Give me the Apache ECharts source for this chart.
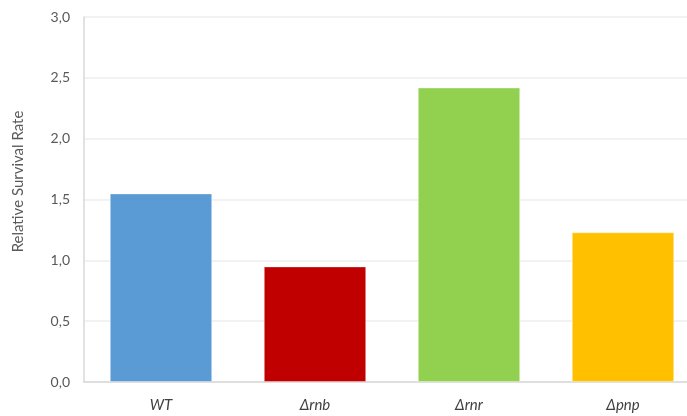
<!DOCTYPE html>
<html>
<head>
<meta charset="utf-8">
<script src="https://cdn.jsdelivr.net/npm/echarts@6/dist/echarts.min.js"></script>
<style>
  html, body { margin: 0; padding: 0; background: #fff; overflow: hidden; }
  /* the plot runs a little past the right edge of the visible frame */
  #frame { width: 687px; height: 416px; overflow: hidden; }
  #chart { width: 700px; height: 416px; }
</style>
</head>
<body>
<div id="frame"><div id="chart"></div></div>
<script>
// Strains and their relative survival rates
const strains = ['WT', 'Δrnb', 'Δrnr', 'Δpnp'];
const survivalRates = [1.55, 0.95, 2.42, 1.23];
const barColors = ['#5B9BD5', '#C00000', '#92D050', '#FFC000'];

const chart = echarts.init(document.getElementById('chart'));

chart.setOption({
  animation: false,
  backgroundColor: '#ffffff',
  grid: { left: 84, top: 17, bottom: 34, right: 0, containLabel: false },
  xAxis: {
    type: 'category',
    data: strains,
    axisLine: { show: true, lineStyle: { color: '#d9d9d9', width: 1.5 } },
    axisTick: { show: false },
    axisLabel: {
      margin: 16,
      fontFamily: 'Lato',
      fontStyle: 'italic',
      fontSize: 15,
      color: '#404040'
    }
  },
  yAxis: {
    type: 'value',
    min: 0,
    max: 3,
    interval: 0.5,
    name: 'Relative Survival Rate',
    nameLocation: 'middle',
    nameGap: 58,
    nameTextStyle: {
      fontFamily: 'Lato',
      fontSize: 15,
      color: '#595959',
      padding: [0, 0, 0, 36]
    },
    axisLine: { show: true, lineStyle: { color: '#d9d9d9', width: 1.5 } },
    axisTick: { show: false },
    axisLabel: {
      margin: 14,
      fontFamily: 'Lato',
      fontSize: 14,
      color: '#595959',
      formatter: v => v.toFixed(1).replace('.', ',')
    },
    splitLine: { show: true, lineStyle: { color: '#eeeeee', width: 1.5 } }
  },
  series: [{
    type: 'bar',
    data: survivalRates.map((v, i) => ({
      value: v,
      itemStyle: { color: barColors[i] }
    })),
    barCategoryGap: '33.5%',
    itemStyle: { borderColor: 'rgba(255,255,255,0.35)', borderWidth: 1 }
  }]
});
</script>
</body>
</html>
